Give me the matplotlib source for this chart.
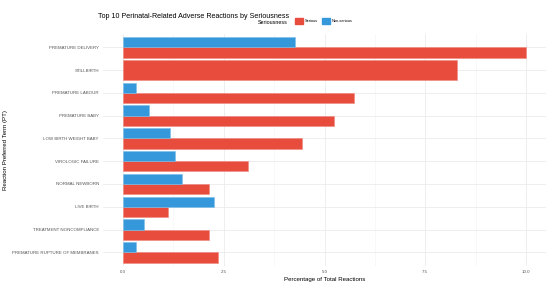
import numpy as np
import matplotlib
matplotlib.use("Agg")
import matplotlib.pyplot as plt
from matplotlib.patches import Patch

plt.rcParams['font.family'] = ['Liberation Sans', 'DejaVu Sans']

# data, top to bottom
terms = ["PREMATURE DELIVERY", "STILLBIRTH", "PREMATURE LABOUR", "PREMATURE BABY",
         "LOW BIRTH WEIGHT BABY", "VIROLOGIC FAILURE", "NORMAL NEWBORN", "LIVE BIRTH",
         "TREATMENT NONCOMPLIANCE", "PREMATURE RUPTURE OF MEMBRANES"]
serious = [10.0, 8.29, 5.73, 5.24, 4.44, 3.10, 2.13, 1.12, 2.13, 2.35]
non_serious = [4.27, np.nan, 0.32, 0.65, 1.17, 1.29, 1.45, 2.25, 0.53, 0.32]
xticks = [0.0, 2.5, 5.0, 7.5, 10.0]

red = "#E74C3C"
blue = "#3498DB"

fig = plt.figure(figsize=(5.5, 2.84), dpi=100)
ax = fig.add_axes([103 / 550, 1 - 266 / 284, 443 / 550, 232.4 / 284])

n = len(terms)
ypos = np.arange(n)[::-1] + 1.0
w = 0.45
for y, s, ns in zip(ypos, serious, non_serious):
    if np.isnan(ns):
        ax.barh(y, s, height=2 * w, color=red, edgecolor="#F08A80", linewidth=0.4, zorder=3)
    else:
        ax.barh(y - w / 2, s, height=w, color=red, edgecolor="#F08A80", linewidth=0.4, zorder=3)
        ax.barh(y + w / 2, ns, height=w, color=blue, edgecolor="#7DBDE8", linewidth=0.4, zorder=3)

ax.set_xlim(-0.5, 10.5)
ax.set_ylim(0.4, n + 0.6)
ax.set_yticks(ypos)
ax.set_yticklabels(terms)
ax.set_xticks(xticks)
ax.set_xticklabels([f"{v:.1f}" for v in xticks])
ax.set_xticks([1.25, 3.75, 6.25, 8.75], minor=True)
ax.tick_params(axis="both", length=0, labelsize=3.2, labelcolor="#555555", pad=3)
ax.tick_params(axis="x", which="minor", length=0)
ax.grid(True, which="major", color="#EBEBEB", linewidth=0.6, zorder=0)
ax.grid(True, which="minor", axis="x", color="#F3F3F3", linewidth=0.4, zorder=0)
for sp in ax.spines.values():
    sp.set_visible(False)

ax.set_xlabel("Percentage of Total Reactions", fontsize=4.4, labelpad=2)
ax.set_ylabel("Reaction Preferred Term (PT)", fontsize=4.4, labelpad=4)
ax.yaxis.set_label_coords(-(103 - 8) / 443, 0.5)

fig.text(98 / 550, 1 - 16 / 284, "Top 10 Perinatal-Related Adverse Reactions by Seriousness",
         fontsize=5.1, va="center", ha="left")
fig.text(258 / 550, 1 - 22 / 284, "Seriousness", fontsize=3.9, va="center", ha="left")
handles = [Patch(color=red), Patch(color=blue)]
fig.legend(handles, ["Serious", "Non-serious"], loc="center left",
           bbox_to_anchor=(295 / 550, 1 - 21 / 284), ncol=2, frameon=False,
           fontsize=2.8, handlelength=2.0, handleheight=2.0, handletextpad=0.6,
           columnspacing=0.9, borderpad=0, borderaxespad=0)

fig.savefig("out.png", dpi=100)
